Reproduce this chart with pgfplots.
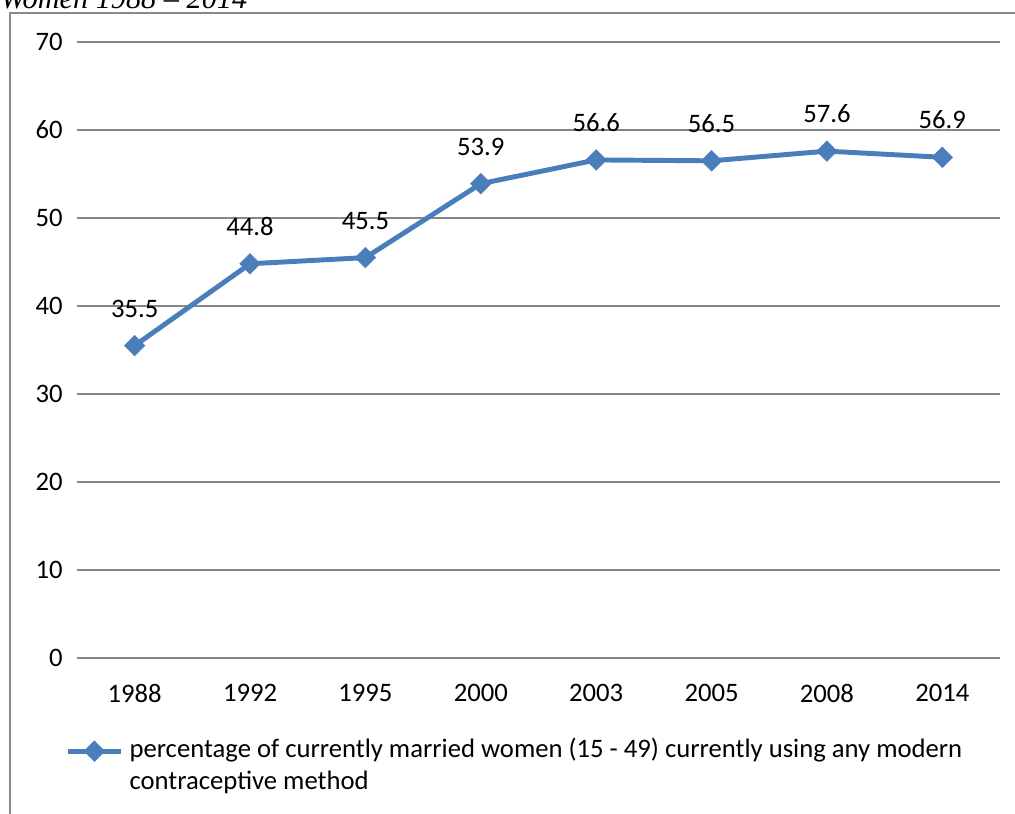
\documentclass[border=0pt]{standalone}
\usepackage{pgfplots}
\pgfplotsset{compat=1.18}
\usepackage{fontspec}
\setmainfont{Carlito}
\newfontfamily\titlefont{Liberation Serif}
\definecolor{ser}{HTML}{4A7EBB}
\definecolor{gridc}{HTML}{868686}
\definecolor{framec}{HTML}{898989}
\begin{document}
\fontsize{20pt}{23.5pt}\selectfont
\begin{tikzpicture}
\useasboundingbox (0,0) rectangle (761.25pt,-610.5pt);
\clip (0,0) rectangle (761.25pt,-610.5pt);
\draw[framec, line width=1.5pt] (7.5pt,-9.75pt) rectangle (780pt,-630pt);
\node[anchor=base west, inner sep=0pt, font=\titlefont\itshape\fontsize{22.7pt}{26pt}\selectfont] at (0pt,-6.5pt) {Women 1988 – 2014};
\begin{axis}[
  at={(57.75pt,-493.5pt)}, anchor=south west,
  width=692.25pt, height=462pt, scale only axis,
  xmin=-0.5, xmax=7.5, ymin=0, ymax=70,
  ytick={0,10,...,70},
  xtick={0,...,7},
  xticklabels={1988,1992,1995,2000,2003,2005,2008,2014},
  /pgf/number format/assume math mode=true,
  axis line style={draw=none},
  tick style={draw=none},
  major tick length=0pt,
  ymajorgrids,
  grid style={gridc, line width=0.9pt},
  yticklabel style={inner sep=0pt, anchor=east, xshift=-10.5pt},
  xticklabel style={inner sep=0pt, anchor=north, yshift=-19.5pt},
  legend style={at={(-0.013,-0.13)}, anchor=north west, draw=none, fill=none,
    inner sep=0pt, nodes={inner sep=0pt, anchor=base west}},
  legend image code/.code={\draw[#1, mark repeat=2, mark phase=2, yshift=5pt] plot coordinates {(0pt,0pt) (20pt,0pt) (40pt,0pt)};},
  legend cell align=left,
  clip=false,
]
\addplot[ser, line width=3.7pt, mark=square*, mark size=5.4pt,
  mark options={rotate=45, line width=0.5pt, fill=ser, draw=ser},
  point meta=explicit symbolic,
  nodes near coords,
  nodes near coords style={black, anchor=south, inner sep=0pt, yshift=21pt},
] table[meta=label] {
x y label
0 35.5 35.5
1 44.8 44.8
2 45.5 45.5
3 53.9 53.9
4 56.6 56.6
5 56.5 56.5
6 57.6 57.6
7 56.9 56.9
};
\addlegendentry{\hspace{4.5pt}\parbox[t]{680pt}{percentage of currently married women (15 - 49) currently using any modern\\contraceptive method}}
\end{axis}
\end{tikzpicture}
\end{document}
